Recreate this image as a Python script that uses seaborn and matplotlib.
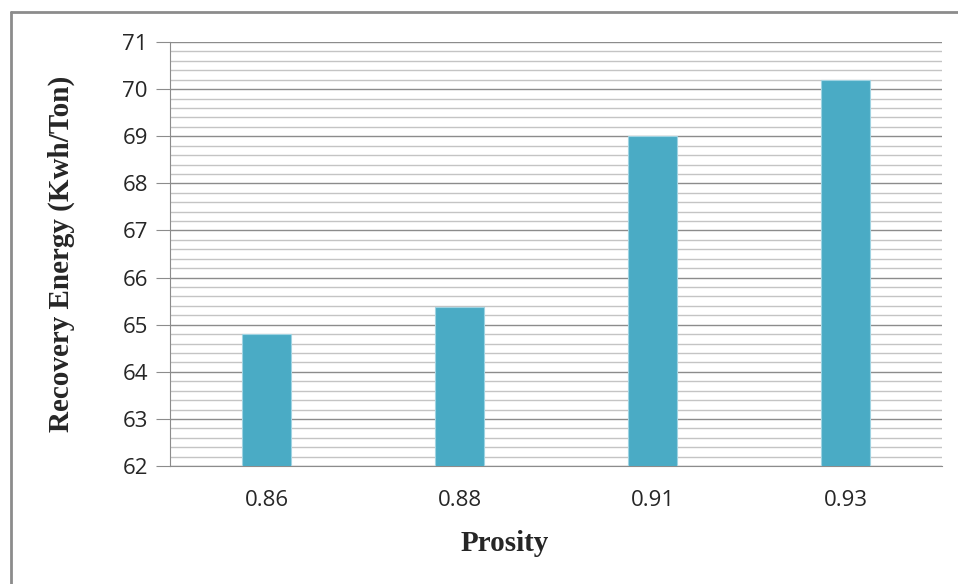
import matplotlib
matplotlib.use("Agg")
import matplotlib.pyplot as plt
from matplotlib.lines import Line2D
from matplotlib.ticker import MultipleLocator
import seaborn as sns
import pandas as pd

porosity = ["0.86", "0.88", "0.91", "0.93"]
energy = [64.8, 65.38, 69.0, 70.2]

df = pd.DataFrame({"Prosity": porosity, "Energy": energy})

sns.set_style("white")
plt.rcParams['font.family'] = ['Open Sans', 'DejaVu Sans']

fig = plt.figure(figsize=(9.58, 5.84), dpi=100)
ax = fig.add_axes([0.1775, 0.202, 0.8058, 0.726])

sns.barplot(data=df, x="Prosity", y="Energy", color="#4aabc5", width=0.25,
            saturation=1, edgecolor="#9fd3e2", linewidth=0.8, ax=ax, zorder=3)

ax.set_ylim(62, 71)
ax.yaxis.set_major_locator(MultipleLocator(1))
ax.yaxis.set_minor_locator(MultipleLocator(0.2))
ax.grid(which="major", axis="y", color="#8c8c8c", linewidth=1.0, zorder=0)
ax.grid(which="minor", axis="y", color="#c4c4c4", linewidth=1.0, zorder=0)
ax.set_axisbelow(True)

for side in ["top", "right"]:
    ax.spines[side].set_visible(False)
ax.spines["left"].set_color("#8c8c8c")
ax.spines["bottom"].set_color("#8c8c8c")
ax.tick_params(axis="y", which="major", left=True, length=10, color="#8c8c8c",
               labelsize=16, labelcolor="#262626", pad=6)
ax.tick_params(axis="y", which="minor", left=False)
ax.tick_params(axis="x", bottom=False, labelsize=16, labelcolor="#262626", pad=14)

ax.set_xlabel("Prosity", family=["Liberation Serif"], fontweight="bold",
              fontsize=21, va="center")
ax.set_ylabel("Recovery Energy (Kwh/Ton)", family=["Liberation Serif"],
              fontweight="bold", fontsize=21, va="center")
ax.xaxis.set_label_coords(0.434, -0.182)
ax.yaxis.set_label_coords(-0.141, 0.5)

# chart frame, as in the original export (left and top edges only)
fig.add_artist(Line2D([0.0115, 0.0115], [0.0, 0.979], transform=fig.transFigure,
                      color="#8c8c8c", linewidth=2))
fig.add_artist(Line2D([0.0115, 1.0], [0.979, 0.979], transform=fig.transFigure,
                      color="#8c8c8c", linewidth=2))

fig.savefig("out.png", dpi=100)
